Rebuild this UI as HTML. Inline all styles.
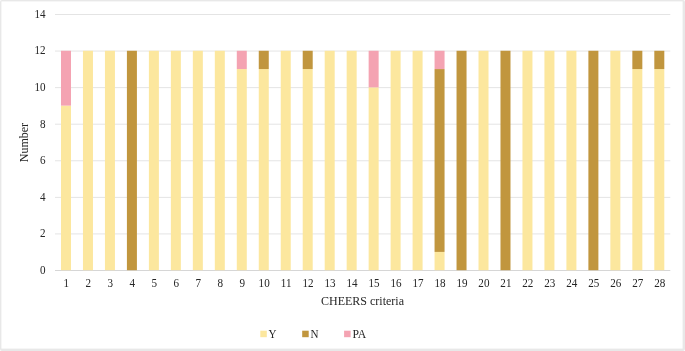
<!DOCTYPE html>
<html lang="en"><head><meta charset="utf-8"><title>CHEERS criteria</title>
<style>html,body{margin:0;padding:0;background:#fff}body{width:685px;height:351px;overflow:hidden}svg{display:block}text{font-family:"Liberation Serif","Times New Roman",serif;fill:#262626}</style></head><body>
<svg width="685" height="351" viewBox="0 0 685 351">
<rect x="0" y="0" width="685" height="351" rx="2" ry="2" fill="#e8e8e8"/>
<rect x="1.4" y="1.4" width="681.2" height="347.2" fill="#ffffff"/>
<line x1="55.00" y1="270.50" x2="670.30" y2="270.50" stroke="#d6d6d6" stroke-width="1"/>
<line x1="55.00" y1="233.93" x2="670.30" y2="233.93" stroke="#e4e4e4" stroke-width="1"/>
<line x1="55.00" y1="197.36" x2="670.30" y2="197.36" stroke="#e4e4e4" stroke-width="1"/>
<line x1="55.00" y1="160.79" x2="670.30" y2="160.79" stroke="#e4e4e4" stroke-width="1"/>
<line x1="55.00" y1="124.21" x2="670.30" y2="124.21" stroke="#e4e4e4" stroke-width="1"/>
<line x1="55.00" y1="87.64" x2="670.30" y2="87.64" stroke="#e4e4e4" stroke-width="1"/>
<line x1="55.00" y1="51.07" x2="670.30" y2="51.07" stroke="#e4e4e4" stroke-width="1"/>
<line x1="55.00" y1="14.50" x2="670.30" y2="14.50" stroke="#e4e4e4" stroke-width="1"/>
<rect x="60.99" y="105.63" width="10.00" height="164.57" fill="#fce79e"/>
<rect x="60.99" y="50.77" width="10.00" height="54.86" fill="#f4a3b2"/>
<rect x="82.96" y="50.77" width="10.00" height="219.43" fill="#fce79e"/>
<rect x="104.94" y="50.77" width="10.00" height="219.43" fill="#fce79e"/>
<rect x="126.91" y="50.77" width="10.00" height="219.43" fill="#c1963e"/>
<rect x="148.89" y="50.77" width="10.00" height="219.43" fill="#fce79e"/>
<rect x="170.86" y="50.77" width="10.00" height="219.43" fill="#fce79e"/>
<rect x="192.84" y="50.77" width="10.00" height="219.43" fill="#fce79e"/>
<rect x="214.81" y="50.77" width="10.00" height="219.43" fill="#fce79e"/>
<rect x="236.79" y="69.06" width="10.00" height="201.14" fill="#fce79e"/>
<rect x="236.79" y="50.77" width="10.00" height="18.29" fill="#f4a3b2"/>
<rect x="258.76" y="69.06" width="10.00" height="201.14" fill="#fce79e"/>
<rect x="258.76" y="50.77" width="10.00" height="18.29" fill="#c1963e"/>
<rect x="280.74" y="50.77" width="10.00" height="219.43" fill="#fce79e"/>
<rect x="302.71" y="69.06" width="10.00" height="201.14" fill="#fce79e"/>
<rect x="302.71" y="50.77" width="10.00" height="18.29" fill="#c1963e"/>
<rect x="324.69" y="50.77" width="10.00" height="219.43" fill="#fce79e"/>
<rect x="346.66" y="50.77" width="10.00" height="219.43" fill="#fce79e"/>
<rect x="368.64" y="87.34" width="10.00" height="182.86" fill="#fce79e"/>
<rect x="368.64" y="50.77" width="10.00" height="36.57" fill="#f4a3b2"/>
<rect x="390.61" y="50.77" width="10.00" height="219.43" fill="#fce79e"/>
<rect x="412.59" y="50.77" width="10.00" height="219.43" fill="#fce79e"/>
<rect x="434.56" y="251.91" width="10.00" height="18.29" fill="#fce79e"/>
<rect x="434.56" y="69.06" width="10.00" height="182.86" fill="#c1963e"/>
<rect x="434.56" y="50.77" width="10.00" height="18.29" fill="#f4a3b2"/>
<rect x="456.54" y="50.77" width="10.00" height="219.43" fill="#c1963e"/>
<rect x="478.51" y="50.77" width="10.00" height="219.43" fill="#fce79e"/>
<rect x="500.49" y="50.77" width="10.00" height="219.43" fill="#c1963e"/>
<rect x="522.46" y="50.77" width="10.00" height="219.43" fill="#fce79e"/>
<rect x="544.44" y="50.77" width="10.00" height="219.43" fill="#fce79e"/>
<rect x="566.41" y="50.77" width="10.00" height="219.43" fill="#fce79e"/>
<rect x="588.39" y="50.77" width="10.00" height="219.43" fill="#c1963e"/>
<rect x="610.36" y="50.77" width="10.00" height="219.43" fill="#fce79e"/>
<rect x="632.34" y="69.06" width="10.00" height="201.14" fill="#fce79e"/>
<rect x="632.34" y="50.77" width="10.00" height="18.29" fill="#c1963e"/>
<rect x="654.31" y="69.06" width="10.00" height="201.14" fill="#fce79e"/>
<rect x="654.31" y="50.77" width="10.00" height="18.29" fill="#c1963e"/>
<text transform="translate(45.50,273.90) scale(0.95,1)" font-size="11.7" text-anchor="end">0</text>
<text transform="translate(45.50,237.33) scale(0.95,1)" font-size="11.7" text-anchor="end">2</text>
<text transform="translate(45.50,200.76) scale(0.95,1)" font-size="11.7" text-anchor="end">4</text>
<text transform="translate(45.50,164.19) scale(0.95,1)" font-size="11.7" text-anchor="end">6</text>
<text transform="translate(45.50,127.61) scale(0.95,1)" font-size="11.7" text-anchor="end">8</text>
<text transform="translate(45.50,91.04) scale(0.95,1)" font-size="11.7" text-anchor="end">10</text>
<text transform="translate(45.50,54.47) scale(0.95,1)" font-size="11.7" text-anchor="end">12</text>
<text transform="translate(45.50,17.90) scale(0.95,1)" font-size="11.7" text-anchor="end">14</text>
<text transform="translate(66.39,287.40) scale(0.95,1)" font-size="11.7" text-anchor="middle">1</text>
<text transform="translate(88.36,287.40) scale(0.95,1)" font-size="11.7" text-anchor="middle">2</text>
<text transform="translate(110.34,287.40) scale(0.95,1)" font-size="11.7" text-anchor="middle">3</text>
<text transform="translate(132.31,287.40) scale(0.95,1)" font-size="11.7" text-anchor="middle">4</text>
<text transform="translate(154.29,287.40) scale(0.95,1)" font-size="11.7" text-anchor="middle">5</text>
<text transform="translate(176.26,287.40) scale(0.95,1)" font-size="11.7" text-anchor="middle">6</text>
<text transform="translate(198.24,287.40) scale(0.95,1)" font-size="11.7" text-anchor="middle">7</text>
<text transform="translate(220.21,287.40) scale(0.95,1)" font-size="11.7" text-anchor="middle">8</text>
<text transform="translate(242.19,287.40) scale(0.95,1)" font-size="11.7" text-anchor="middle">9</text>
<text transform="translate(264.16,287.40) scale(0.95,1)" font-size="11.7" text-anchor="middle">10</text>
<text transform="translate(286.14,287.40) scale(0.95,1)" font-size="11.7" text-anchor="middle">11</text>
<text transform="translate(308.11,287.40) scale(0.95,1)" font-size="11.7" text-anchor="middle">12</text>
<text transform="translate(330.09,287.40) scale(0.95,1)" font-size="11.7" text-anchor="middle">13</text>
<text transform="translate(352.06,287.40) scale(0.95,1)" font-size="11.7" text-anchor="middle">14</text>
<text transform="translate(374.04,287.40) scale(0.95,1)" font-size="11.7" text-anchor="middle">15</text>
<text transform="translate(396.01,287.40) scale(0.95,1)" font-size="11.7" text-anchor="middle">16</text>
<text transform="translate(417.99,287.40) scale(0.95,1)" font-size="11.7" text-anchor="middle">17</text>
<text transform="translate(439.96,287.40) scale(0.95,1)" font-size="11.7" text-anchor="middle">18</text>
<text transform="translate(461.94,287.40) scale(0.95,1)" font-size="11.7" text-anchor="middle">19</text>
<text transform="translate(483.91,287.40) scale(0.95,1)" font-size="11.7" text-anchor="middle">20</text>
<text transform="translate(505.89,287.40) scale(0.95,1)" font-size="11.7" text-anchor="middle">21</text>
<text transform="translate(527.86,287.40) scale(0.95,1)" font-size="11.7" text-anchor="middle">22</text>
<text transform="translate(549.84,287.40) scale(0.95,1)" font-size="11.7" text-anchor="middle">23</text>
<text transform="translate(571.81,287.40) scale(0.95,1)" font-size="11.7" text-anchor="middle">24</text>
<text transform="translate(593.79,287.40) scale(0.95,1)" font-size="11.7" text-anchor="middle">25</text>
<text transform="translate(615.76,287.40) scale(0.95,1)" font-size="11.7" text-anchor="middle">26</text>
<text transform="translate(637.74,287.40) scale(0.95,1)" font-size="11.7" text-anchor="middle">27</text>
<text transform="translate(659.71,287.40) scale(0.95,1)" font-size="11.7" text-anchor="middle">28</text>
<text x="362.5" y="304.6" font-size="12" text-anchor="middle">CHEERS criteria</text>
<text transform="translate(28.2,142.6) rotate(-90)" font-size="12" text-anchor="middle">Number</text>
<rect x="260.3" y="330.7" width="6.5" height="6.5" fill="#fce79e"/>
<text transform="translate(268.60,337.70) scale(0.95,1)" font-size="11.7" text-anchor="start">Y</text>
<rect x="302.2" y="330.7" width="6.5" height="6.5" fill="#c1963e"/>
<text transform="translate(310.40,337.70) scale(0.95,1)" font-size="11.7" text-anchor="start">N</text>
<rect x="344.1" y="330.7" width="6.5" height="6.5" fill="#f4a3b2"/>
<text transform="translate(352.40,337.70) scale(1.0,1)" font-size="11.7" text-anchor="start">PA</text>
</svg></body></html>
